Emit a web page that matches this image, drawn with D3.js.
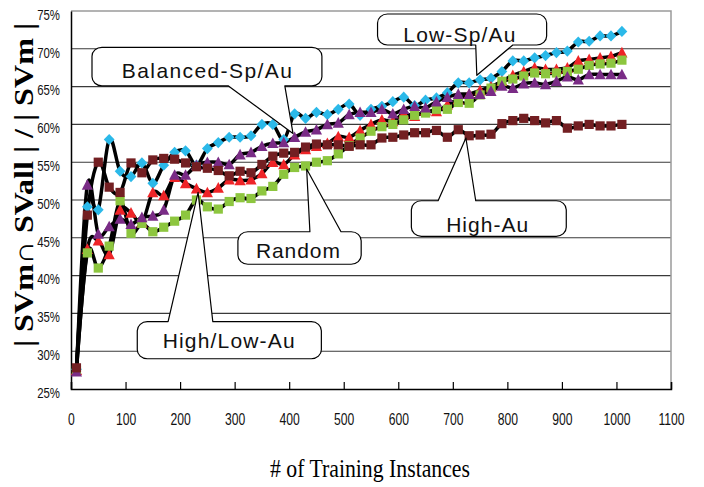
<!DOCTYPE html>
<html><head><meta charset="utf-8">
<script src="https://cdn.jsdelivr.net/npm/d3@7"></script>
<style>
html,body{margin:0;padding:0;background:#fff;}
svg{display:block;}
</style></head><body>
<svg id="chart" width="704" height="487"></svg>
<script>
// ---- data -------------------------------------------------------------
const instances = [10,30,50,70,90,110,130,150,170,190,
  210,230,250,270,290,310,330,350,370,390,
  410,430,450,470,490,510,530,550,570,590,
  610,630,650,670,690,710,730,750,770,790,
  810,830,850,870,890,910,930,950,970,990,1010];

const lowSpAu = [27.6,49.1,48.7,58.0,53.8,53.1,54.9,52.2,54.6,56.3,
  56.5,54.6,56.8,57.6,58.3,58.3,58.5,60.0,60.0,58.0,
  61.4,60.8,61.6,61.3,62.0,62.7,61.2,62.0,62.4,63.0,
  63.6,62.5,63.2,63.5,64.2,65.5,65.5,65.9,66.1,67.0,
  68.4,68.4,68.8,69.1,69.5,69.7,70.9,71.0,71.7,71.7,72.3];

const randomSel = [27.5,43.5,44.6,42.8,48.7,48.3,47.0,51.0,50.6,53.0,
  52.2,51.5,51.0,51.6,52.7,52.6,52.7,53.5,55.0,54.7,
  56.0,56.7,57.1,57.5,58.4,58.3,59.2,60.0,60.6,60.4,
  61.4,61.1,61.8,61.7,62.6,63.3,64.0,64.5,65.0,65.7,
  66.5,67.0,67.5,67.3,67.3,67.5,68.4,68.6,68.8,69.0,69.5];

const highLowAu = [27.5,43.0,41.0,43.9,49.9,45.6,46.9,45.8,46.4,47.2,
  48.0,50.0,49.1,48.8,49.8,50.3,50.2,51.2,51.8,53.4,
  54.3,54.5,55.0,55.2,56.1,57.2,58.2,59.1,59.7,60.0,
  60.6,61.2,61.5,62.0,62.0,62.9,62.8,63.9,64.8,65.7,
  66.0,66.4,66.8,66.7,66.8,67.0,67.3,67.8,68.0,68.1,68.5];

const balancedSpAu = [27.3,52.0,45.5,46.5,47.5,46.8,47.7,47.9,48.7,53.3,
  53.3,54.6,55.0,55.0,54.7,56.0,56.3,57.1,57.5,57.6,
  58.3,59.0,59.3,60.0,60.2,61.3,61.6,61.6,62.0,61.4,
  62.0,62.4,62.2,63.0,63.6,64.0,64.0,64.0,64.4,65.1,
  64.8,65.4,65.5,65.3,65.7,66.3,65.9,66.6,66.6,66.6,66.6];

const highAu = [27.8,48.0,55.0,51.7,51.0,54.9,53.6,55.3,55.5,55.4,
  54.9,54.4,54.2,53.9,53.2,53.8,53.6,54.7,55.8,56.2,
  56.3,57.0,57.4,57.3,57.3,57.1,57.3,57.3,58.2,58.3,
  58.6,58.9,58.9,59.2,58.3,59.3,58.5,58.6,58.7,60.1,
  60.5,60.8,60.5,60.2,60.5,59.5,59.8,60.0,59.8,59.8,60.0];

const seriesNames = ["Low-Sp/Au","Random","High/Low-Au","Balanced-Sp/Au","High-Au"];
const seriesValues = [lowSpAu, randomSel, highLowAu, balancedSpAu, highAu];

const xTicks = [0,100,200,300,400,500,600,700,800,900,1000,1100];
const yTicks = [25,30,35,40,45,50,55,60,65,70,75];

const xTitle = "# of Training Instances";
const yTitle = "| SVm\u2229 SVall | / | SVm |";

// ---- styling ----------------------------------------------------------
const markerStyle = {
  "Low-Sp/Au":      {shape:"diamond",  color:"#2bb9e9"},
  "Random":         {shape:"triangle", color:"#ee2427"},
  "High/Low-Au":    {shape:"square",   color:"#8dc63f"},
  "Balanced-Sp/Au": {shape:"triangle", color:"#7a2c86"},
  "High-Au":        {shape:"square",   color:"#731f22"}
};
const shapes = {
  diamond:  "M0,-5.6L5.4,0L0,5.6L-5.4,0Z",
  triangle: "M0,-5.8L5.6,4.8L-5.6,4.8Z",
  square:   "M-4.6,-4.6H4.6V4.6H-4.6Z"
};
const tickFont = "'Liberation Sans Narrow','Arial Narrow','Liberation Sans',Arial,sans-serif";
const narrow = 0.76;   // horizontal squeeze for tick labels

// Callout boxes, given in data units (instances, percent) so they sit on the chart's scales.
// side: edge that carries the pointer; b0/b1: pointer base along that edge; tip: pointer end.
const callouts = [
  {text:"Balanced-Sp/Au", x0:38.5, x1:460, v0:70.2, v1:65.1, side:"bottom", b0:288, b1:392, tip:[407,58.8], labelX:249, labelV:66.1, len:170},
  {text:"Low-Sp/Au",      x0:562,  x1:872, v0:74.6, v1:70.5, side:"bottom", b0:742, b1:810, tip:[744,66.5], labelX:712, labelV:70.9, len:112},
  {text:"High-Au",        x0:624,  x1:908, v0:49.9, v1:45.2, side:"top",    b0:673, b1:742, tip:[724,58.2], labelX:763, labelV:45.8, len:82},
  {text:"Random",         x0:306,  x1:532, v0:45.8, v1:41.5, side:"top",    b0:438, b1:495, tip:[432,54.1], labelX:416, labelV:42.3, len:84},
  {text:"High/Low-Au",    x0:121.5,x1:459, v0:33.9, v1:29.0, side:"top",    b0:178, b1:260, tip:[233,51.0], labelX:289, labelV:30.4, len:132}
];

// ---- layout -----------------------------------------------------------
const svg = d3.select("#chart");
const W = 704, H = 487;
const plot = {left:71, right:671, top:11, bottom:389};

svg.append("rect").attr("width",W).attr("height",H).attr("fill","#fff");

const x = d3.scaleLinear().domain([0,1100]).range([plot.left, plot.right]);
const y = d3.scaleLinear().domain([25,75]).range([plot.bottom, plot.top]);

// horizontal gridlines
svg.append("g").selectAll("line").data(yTicks.slice(1, -1)).join("line")
  .attr("x1", plot.left).attr("x2", plot.right)
  .attr("y1", d => y(d)).attr("y2", d => y(d))
  .attr("stroke", "#3a3a3a").attr("stroke-width", 1.1);

// top and right frame
svg.append("path")
  .attr("d", `M${plot.left},${y(75)}H${plot.right}V${plot.bottom}`)
  .attr("fill","none").attr("stroke","#9a9a9a").attr("stroke-width",1.5);

// x axis
const xAxis = svg.append("g").attr("transform", `translate(0,${plot.bottom})`)
  .call(d3.axisBottom(x).tickValues(xTicks).tickSize(-7).tickPadding(25).tickFormat(d3.format("d")));
xAxis.select(".domain").attr("stroke","#000").attr("stroke-width",1.5);
xAxis.selectAll(".tick line").attr("stroke","#000").attr("stroke-width",1.2);
xAxis.selectAll(".tick text")
  .attr("transform", `scale(${narrow},1)`)
  .attr("font-family", tickFont)
  .attr("font-size",16).attr("fill","#111");

// y axis
const yAxis = svg.append("g").attr("transform", `translate(${plot.left},0)`)
  .call(d3.axisLeft(y).tickValues(yTicks).tickSize(0).tickPadding(11 / narrow).tickFormat(d => d + "%"));
yAxis.select(".domain").attr("stroke","#000").attr("stroke-width",1.5);
yAxis.selectAll(".tick text")
  .attr("transform", `scale(${narrow},1)`)
  .attr("dy","0.55em")
  .attr("font-family", tickFont)
  .attr("font-size",15).attr("fill","#111");

// axis titles
svg.append("text")
  .attr("x", 370).attr("y", 477)
  .attr("text-anchor","middle")
  .attr("font-family","'Liberation Serif','Times New Roman',serif")
  .attr("font-size",26).attr("fill","#000")
  .attr("textLength",200).attr("lengthAdjust","spacingAndGlyphs")
  .text(xTitle);

svg.append("text")
  .attr("transform","translate(33,185) rotate(-90)")
  .attr("text-anchor","middle")
  .attr("font-family","'Liberation Serif','Times New Roman',serif")
  .attr("font-weight","bold")
  .attr("font-size",27).attr("fill","#000")
  .attr("textLength",324).attr("lengthAdjust","spacingAndGlyphs")
  .text(yTitle);

// ---- series -----------------------------------------------------------
const series = seriesNames.map((name, i) => ({
  name,
  points: instances.map((n, j) => ({n, v: seriesValues[i][j]}))
}));

const line = d3.line()
  .x(d => x(d.n)).y(d => y(d.v))
  .curve(d3.curveCardinal.tension(0));

svg.append("g").selectAll("path").data(series).join("path")
  .attr("d", d => line(d.points))
  .attr("fill","none").attr("stroke","#000")
  .attr("stroke-width",3.5).attr("stroke-linejoin","round");

series.forEach(s => {
  const st = markerStyle[s.name];
  svg.append("g").selectAll("path").data(s.points).join("path")
    .attr("transform", d => `translate(${x(d.n)},${y(d.v)})`)
    .attr("d", shapes[st.shape])
    .attr("fill", st.color);
});

// ---- callouts ---------------------------------------------------------
function calloutPath(c) {
  const X0 = x(c.x0), X1 = x(c.x1), Y0 = y(c.v0), Y1 = y(c.v1);
  const B0 = x(c.b0), B1 = x(c.b1), TX = x(c.tip[0]), TY = y(c.tip[1]);
  const rx = 10, ry = 9;
  let p = `M${X0+rx},${Y0}`;
  if (c.side === "top") p += `L${B0},${Y0}L${TX},${TY}L${B1},${Y0}`;
  p += `L${X1-rx},${Y0}A${rx},${ry} 0 0 1 ${X1},${Y0+ry}`;
  p += `L${X1},${Y1-ry}A${rx},${ry} 0 0 1 ${X1-rx},${Y1}`;
  if (c.side === "bottom") p += `L${B1},${Y1}L${TX},${TY}L${B0},${Y1}`;
  p += `L${X0+rx},${Y1}A${rx},${ry} 0 0 1 ${X0},${Y1-ry}`;
  p += `L${X0},${Y0+ry}A${rx},${ry} 0 0 1 ${X0+rx},${Y0}Z`;
  return p;
}

const cg = svg.append("g").selectAll("g").data(callouts).join("g");
cg.append("path")
  .attr("d", calloutPath)
  .attr("fill","#fff").attr("stroke","#000").attr("stroke-width",1.2)
  .attr("stroke-linejoin","round");
cg.append("text")
  .attr("x", d => x(d.labelX)).attr("y", d => y(d.labelV))
  .attr("text-anchor","middle")
  .attr("font-family","'Liberation Sans',Arial,sans-serif")
  .attr("font-size",21).attr("fill","#111")
  .attr("textLength", d => d.len).attr("lengthAdjust","spacing")
  .text(d => d.text);
</script>
</body></html>
